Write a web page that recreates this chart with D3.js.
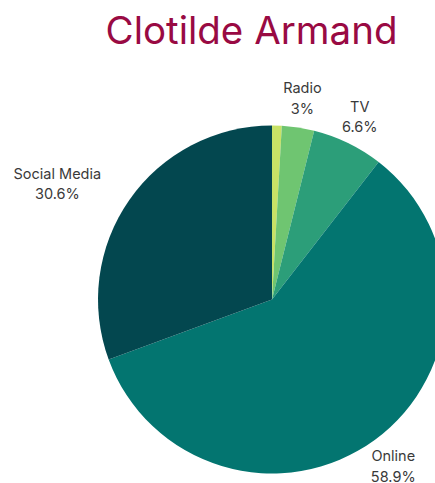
<!DOCTYPE html>
<html><head><meta charset="utf-8">
<script src="https://cdn.jsdelivr.net/npm/d3@7"></script>
<style>body{margin:0;background:#fff;}svg{display:block;}</style>
</head><body>
<svg id="c" width="435" height="483"></svg>
<script>
const title = "Clotilde Armand";
const categories = ["Other", "Radio", "TV", "Online", "Social Media"];
const values = [0.9, 3, 6.6, 58.9, 30.6];
const labels = ["", "Radio", "TV", "Online", "Social Media"];
const valueLabels = ["", "3%", "6.6%", "58.9%", "30.6%"];
const colors = ["#c8e266", "#6fc571", "#2c9e79", "#037570", "#03474f"];

const svg = d3.select("#c");
const cx = 272, cy = 299.5, R = 174;

svg.append("text").attr("x", 251.5).attr("y", 44)
  .attr("text-anchor", "middle")
  .attr("font-family", "Inter, 'Open Sans', sans-serif")
  .attr("font-size", 38.5).attr("fill", "#990a43").text(title);

const data = categories.map((c, i) => ({c, v: values[i], l: labels[i], vl: valueLabels[i], col: colors[i]}));
const pie = d3.pie().value(d => d.v).sort(null);
const arcs = pie(data);
const arc = d3.arc().innerRadius(0).outerRadius(R);
const g = svg.append("g").attr("transform", `translate(${cx},${cy})`);
g.selectAll("path").data(arcs).join("path")
  .attr("d", arc).attr("fill", d => d.data.col);

const Ry = 186;
arcs.forEach(a => {
  if (!a.data.l) return;
  const m = (a.startAngle + a.endAngle) / 2;
  const s = Math.sin(m), co = Math.cos(m);
  const t = g.append("text")
    .attr("text-anchor", "middle")
    .attr("font-family", "Inter, 'Open Sans', sans-serif")
    .attr("font-size", 14.5).attr("fill", "#3a3a3a");
  t.append("tspan").attr("x", 0).attr("dy", 0).text(a.data.l);
  t.append("tspan").attr("x", 0).attr("dy", 20.5).text(a.data.vl);
  const bb = t.node().getBBox();
  const w = bb.width, h = bb.height;
  const Rx = s < 0 ? 218 : 183;
  const px = Rx * s + s * w / 2;
  const py = -Ry * co - co * h / 2 + 1;
  const ccy = bb.y + h / 2;
  t.attr("transform", `translate(${px},${py - ccy})`);
});
</script>
</body></html>
